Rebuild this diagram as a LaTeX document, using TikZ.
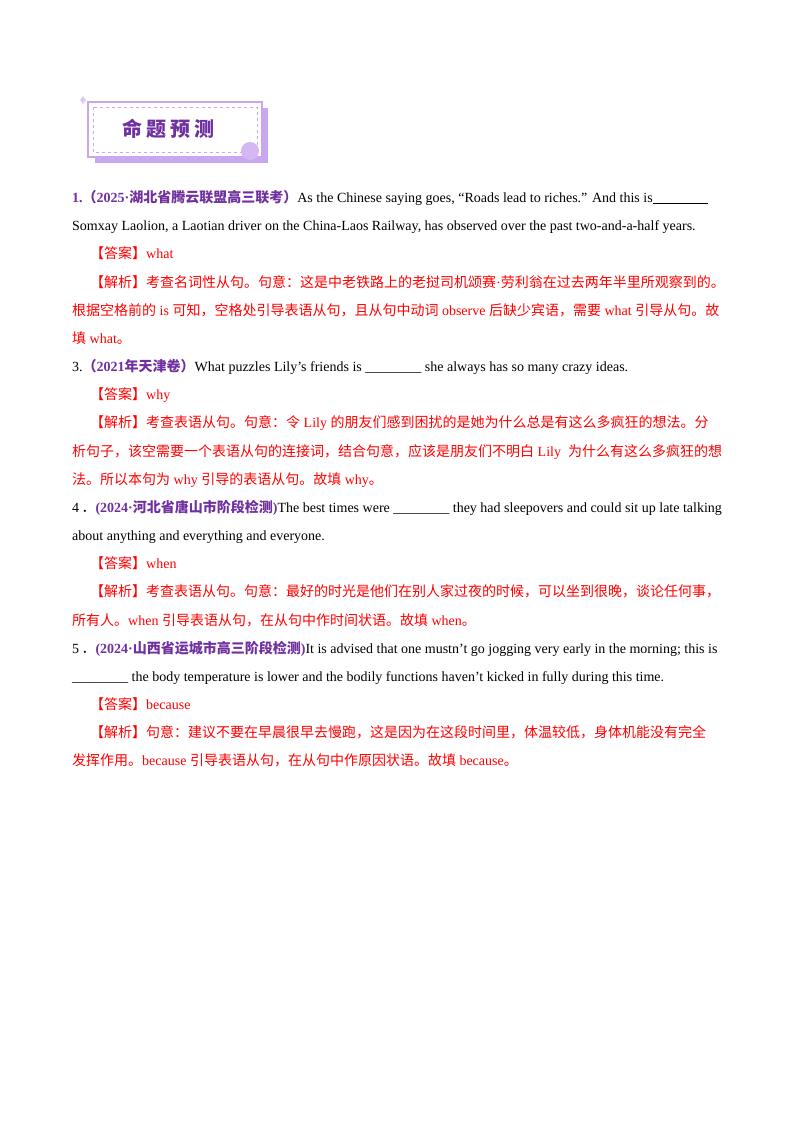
\documentclass[tikz,border=0pt]{standalone}
\usepackage{fontspec}
\setmainfont{Liberation Serif}
\newfontfamily\cjk{Noto Sans CJK SC}
\XeTeXinterchartokenstate=1
\newXeTeXintercharclass\cjkclass
\newcount\cc
\cc="4E00 \loop\ifnum\cc<"A000 \XeTeXcharclass\cc=\cjkclass \advance\cc1 \repeat
\cc="3000 \loop\ifnum\cc<"3040 \XeTeXcharclass\cc=\cjkclass \advance\cc1 \repeat
\cc="FF00 \loop\ifnum\cc<"FFF0 \XeTeXcharclass\cc=\cjkclass \advance\cc1 \repeat
\XeTeXcharclass"201C=0 \XeTeXcharclass"201D=0
\XeTeXinterchartoks 0 \cjkclass={\begingroup\cjk}
\XeTeXinterchartoks 4095 \cjkclass={\begingroup\cjk}
\XeTeXinterchartoks \cjkclass 0={\endgroup}
\XeTeXinterchartoks \cjkclass 4095={\endgroup}
\definecolor{pur}{HTML}{7030A0}
\definecolor{lpur}{HTML}{C9A6F0}
\definecolor{rd}{HTML}{FF0000}
\tikzset{ln/.style={anchor=base west,inner sep=0pt,font=\fontsize{14}{16}\selectfont}}
\newcommand\bl{\underline{\hspace{55pt}}}
\begin{document}
\begin{tikzpicture}[x=1pt,y=-1pt]
\fill[white] (0,0) rectangle (800,1132);
\useasboundingbox (0,0) rectangle (800,1132);
% header
\fill[lpur] (95,108) rectangle (268,163);
\fill[white,draw=lpur,line width=1.2pt] (88,102) rectangle (262,157);
\draw[lpur,dashed,line width=0.7pt] (93,107) rectangle (257,152);
\fill[lpur!80] (250,151) circle (9);
\fill[lpur!60] (83,96) -- (86,100) -- (83,104) -- (80,100) -- cycle;
\node (title) at (168,129) {\fontsize{20}{22}\selectfont\color{pur}\bfseries 命\hspace{4pt}题\hspace{4pt}预\hspace{4pt}测};
% text
\node[ln] (l1) at (72,202) {{\color{pur}\bfseries 1.（2025·湖北省腾云联盟高三联考）}As the Chinese saying goes, “Roads lead to riches.” And this is\textbf{\bl}};
\node[ln] (l2) at (72,230) {Somxay Laolion, a Laotian driver on the China-Laos Railway, has observed over the past two-and-a-half years.};
\node[ln,text=rd] (l3) at (90,258) {【答案】what};
\node[ln,text=rd] (l4) at (90,287) {【解析】考查名词性从句。句意：这是中老铁路上的老挝司机颂赛·劳利翁在过去两年半里所观察到的。};
\node[ln,text=rd] (l5) at (72,315) {根据空格前的 is 可知，空格处引导表语从句，且从句中动词 observe 后缺少宾语，需要 what 引导从句。故};
\node[ln,text=rd] (l6) at (72,343) {填 what。};
\node[ln] (l7) at (72,371) {3.{\color{pur}\bfseries（2021年天津卷）}What puzzles Lily's friends is \_\_\_\_\_\_\_\_ she always has so many crazy ideas.};
\node[ln,text=rd] (l8) at (90,399) {【答案】why};
\node[ln,text=rd] (l9) at (90,427) {【解析】考查表语从句。句意：令 Lily 的朋友们感到困扰的是她为什么总是有这么多疯狂的想法。分};
\node[ln,text=rd] (l10) at (72,456) {析句子，该空需要一个表语从句的连接词，结合句意，应该是朋友们不明白 Lily\ \ 为什么有这么多疯狂的想};
\node[ln,text=rd] (l11) at (72,484) {法。所以本句为 why 引导的表语从句。故填 why。};
\node[ln] (l12) at (72,512) {4\,．{\color{pur}\bfseries(2024·河北省唐山市阶段检测)}The best times were \_\_\_\_\_\_\_\_ they had sleepovers and could sit up late talking};
\node[ln] (l13) at (72,540) {about anything and everything and everyone.};
\node[ln,text=rd] (l14) at (90,568) {【答案】when};
\node[ln,text=rd] (l15) at (90,596) {【解析】考查表语从句。句意：最好的时光是他们在别人家过夜的时候，可以坐到很晚，谈论任何事，};
\node[ln,text=rd] (l16) at (72,625) {所有人。when 引导表语从句，在从句中作时间状语。故填 when。};
\node[ln] (l17) at (72,653) {5\,．{\color{pur}\bfseries(2024·山西省运城市高三阶段检测)}It is advised that one mustn't go jogging very early in the morning; this is};
\node[ln] (l18) at (72,681) {\_\_\_\_\_\_\_\_ the body temperature is lower and the bodily functions haven't kicked in fully during this time.};
\node[ln,text=rd] (l19) at (90,709) {【答案】because};
\node[ln,text=rd] (l20) at (90,737) {【解析】句意：建议不要在早晨很早去慢跑，这是因为在这段时间里，体温较低，身体机能没有完全};
\node[ln,text=rd] (l21) at (72,765) {发挥作用。because 引导表语从句，在从句中作原因状语。故填 because。};
\end{tikzpicture}
\end{document}
